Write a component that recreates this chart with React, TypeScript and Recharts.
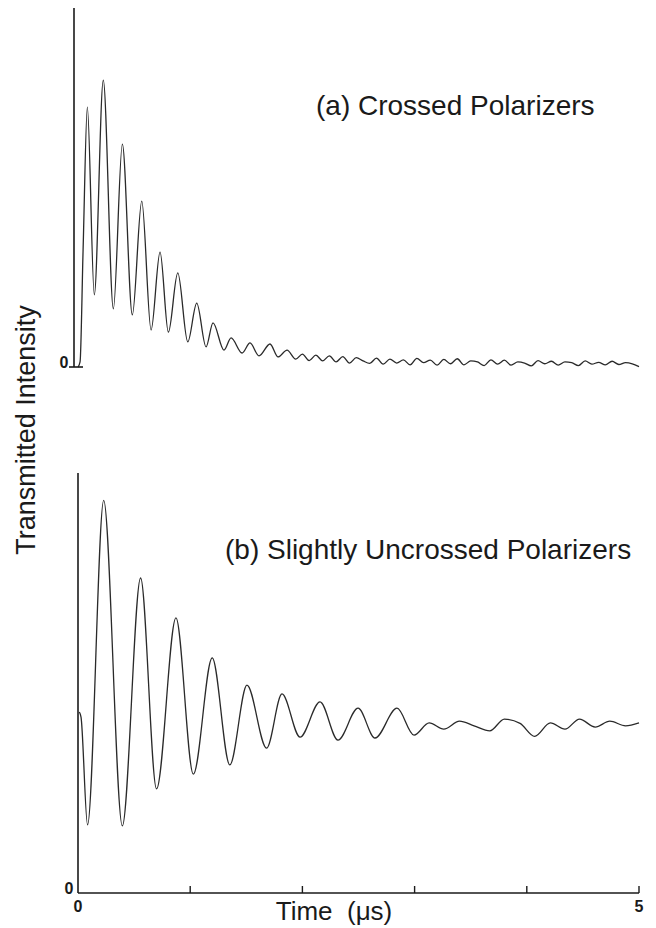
import React from "react";
import { LineChart, Line, XAxis, YAxis } from "recharts";

// (a) Crossed polarizers: time (µs) and transmitted intensity (arb. units, 0-100)
const timeA = [0, 0.018, 0.045, 0.083, 0.145, 0.225, 0.315, 0.395, 0.484, 0.568, 0.651, 0.731, 0.805, 0.889, 0.978, 1.058, 1.141, 1.203, 1.301, 1.364, 1.462, 1.533, 1.613, 1.711, 1.783, 1.863,
  1.94, 2.0, 2.06, 2.12, 2.18, 2.24, 2.3, 2.36, 2.42, 2.48, 2.54, 2.6, 2.66, 2.72, 2.78, 2.84, 2.9, 2.96, 3.02, 3.08, 3.14, 3.2, 3.26, 3.32, 3.38, 3.44, 3.5, 3.56, 3.62, 3.68, 3.74, 3.8, 3.86, 3.92, 3.98, 4.04, 4.1, 4.16, 4.22, 4.28, 4.34, 4.4, 4.46, 4.52, 4.58, 4.64, 4.7, 4.76, 4.82, 4.88, 4.94, 5.0];
const intensityA = [0, 1.4, 32.6, 72.4, 20.1, 79.9, 16.2, 62.1, 14.5, 46.2, 10.3, 32.0, 9.7, 26.2, 7.0, 17.8, 5.6, 12.3, 4.7, 8.1, 3.9, 6.7, 3.1, 6.4, 2.8, 4.7,
  2.2, 3.6, 1.8, 3.3, 1.7, 3.1, 1.4, 2.9, 1.1, 2.6, 1.7, 1.0, 2.5, 0.8, 2.2, 1.1, 2.0, 0.6, 2.4, 1.2, 1.9, 0.5, 2.1, 0.9, 2.3, 0.6, 1.7, 1.4, 0.4, 2.0, 0.8, 1.9, 0.5, 1.4, 1.1, 0.3, 1.8, 0.9, 1.6, 0.5, 1.4, 1.2, 0.4, 1.7, 0.8, 1.3, 0.6, 1.6, 0.7, 1.2, 0.9, 0.1];

// (b) Slightly uncrossed polarizers
const timeB = [0.012, 0.027, 0.085, 0.229, 0.395, 0.558, 0.7, 0.873, 1.028, 1.196, 1.353, 1.506, 1.681, 1.818, 1.979, 2.157, 2.317, 2.496, 2.647, 2.843, 2.995,
  3.13, 3.26, 3.4, 3.53, 3.67, 3.8, 3.94, 4.07, 4.21, 4.34, 4.47, 4.61, 4.74, 4.88, 5.0];
const intensityB = [43.1, 41.9, 16.2, 93.5, 16.0, 75.0, 24.8, 65.5, 28.3, 56.0, 30.5, 49.5, 34.5, 47.4, 37.1, 45.5, 36.4, 44.0, 36.9, 44.0, 37.6,
  40.5, 39.0, 40.9, 39.8, 38.6, 41.4, 40.4, 37.3, 40.5, 39.0, 41.4, 39.5, 40.9, 39.8, 40.5];

const xTicks = [0, 1, 2, 3, 4, 5];
const yTicks = [0];

const dataA = timeA.map((t, i) => ({ t, v: intensityA[i] }));
const dataB = timeB.map((t, i) => ({ t, v: intensityB[i] }));

const FONT = "'Liberation Sans', Arial, Helvetica, sans-serif";
const INK = "#1a1a1a";

const TopYTick = (props: any) => {
  const { x, y } = props;
  return (
    <g>
      <line x1={x - 5} x2={x + 9} y1={y} y2={y} stroke={INK} strokeWidth={1.6} />
      <text x={x - 10} y={y + 1} textAnchor="middle" fontSize={16} fontWeight="bold" fontFamily={FONT} fill={INK}>0</text>
    </g>
  );
};

const BottomYTick = (props: any) => {
  const { x, y } = props;
  return (
    <text x={x - 9} y={y + 1} textAnchor="middle" fontSize={16} fontWeight="bold" fontFamily={FONT} fill={INK}>0</text>
  );
};

const BottomXTick = (props: any) => {
  const { x, y, payload } = props;
  const v = payload.value;
  return (
    <g>
      {v > 0 && <line x1={x} x2={x} y1={y} y2={y - 7} stroke={INK} strokeWidth={1.4} />}
      {(v === 0 || v === 5) && (
        <text x={x} y={y + 19} textAnchor="middle" fontSize={16} fontWeight="bold" fontFamily={FONT} fill={INK}>{v}</text>
      )}
    </g>
  );
};

export default function App() {
  return (
    <div style={{ position: "absolute", left: 0, top: 0, width: 656, height: 928, background: "#fff", overflow: "hidden" }}>
      <div style={{ position: "absolute", left: 0, top: 0 }}>
        <LineChart width={656} height={380} data={dataA} margin={{ top: 8, right: 17, bottom: 13, left: 0 }}>
          <XAxis type="number" dataKey="t" domain={[-0.036, 5]} hide />
          <YAxis
            type="number"
            domain={[0, 100]}
            ticks={yTicks}
            width={74}
            axisLine={{ stroke: INK, strokeWidth: 1.6 }}
            tickLine={false}
            tickSize={0}
            tickMargin={0}
            tick={<TopYTick />}
          />
          <Line type="monotone" dataKey="v" stroke="#2a2a2a" strokeWidth={1.3} dot={false} isAnimationActive={false} />
        </LineChart>
      </div>
      <div style={{ position: "absolute", left: 0, top: 460 }}>
        <LineChart width={656} height={468} data={dataB} margin={{ top: 13, right: 17, bottom: 0, left: 0 }}>
          <XAxis
            type="number"
            dataKey="t"
            domain={[0, 5]}
            ticks={xTicks}
            height={35}
            axisLine={{ stroke: INK, strokeWidth: 1.6 }}
            tickLine={false}
            tickSize={0}
            tickMargin={0}
            tick={<BottomXTick />}
            interval={0}
          />
          <YAxis
            type="number"
            domain={[0, 100]}
            ticks={yTicks}
            width={78}
            axisLine={{ stroke: INK, strokeWidth: 1.6 }}
            tickLine={false}
            tickSize={0}
            tickMargin={0}
            tick={<BottomYTick />}
          />
          <Line type="monotone" dataKey="v" stroke="#2a2a2a" strokeWidth={1.3} dot={false} isAnimationActive={false} />
        </LineChart>
      </div>
      <svg width={656} height={928} style={{ position: "absolute", left: 0, top: 0, pointerEvents: "none" }}>
        <text x={316} y={115} fontSize={28} fontFamily={FONT} fill={INK}>(a) Crossed Polarizers</text>
        <text x={225} y={559} fontSize={28} fontFamily={FONT} fill={INK}>(b) Slightly Uncrossed Polarizers</text>
        <text x={334} y={920} textAnchor="middle" fontSize={26} fontFamily={FONT} fill={INK} xmlSpace="preserve">Time  (μs)</text>
        <text transform="translate(35,430) rotate(-90)" textAnchor="middle" fontSize={27} fontFamily={FONT} fill={INK}>Transmitted Intensity</text>
      </svg>
    </div>
  );
}
